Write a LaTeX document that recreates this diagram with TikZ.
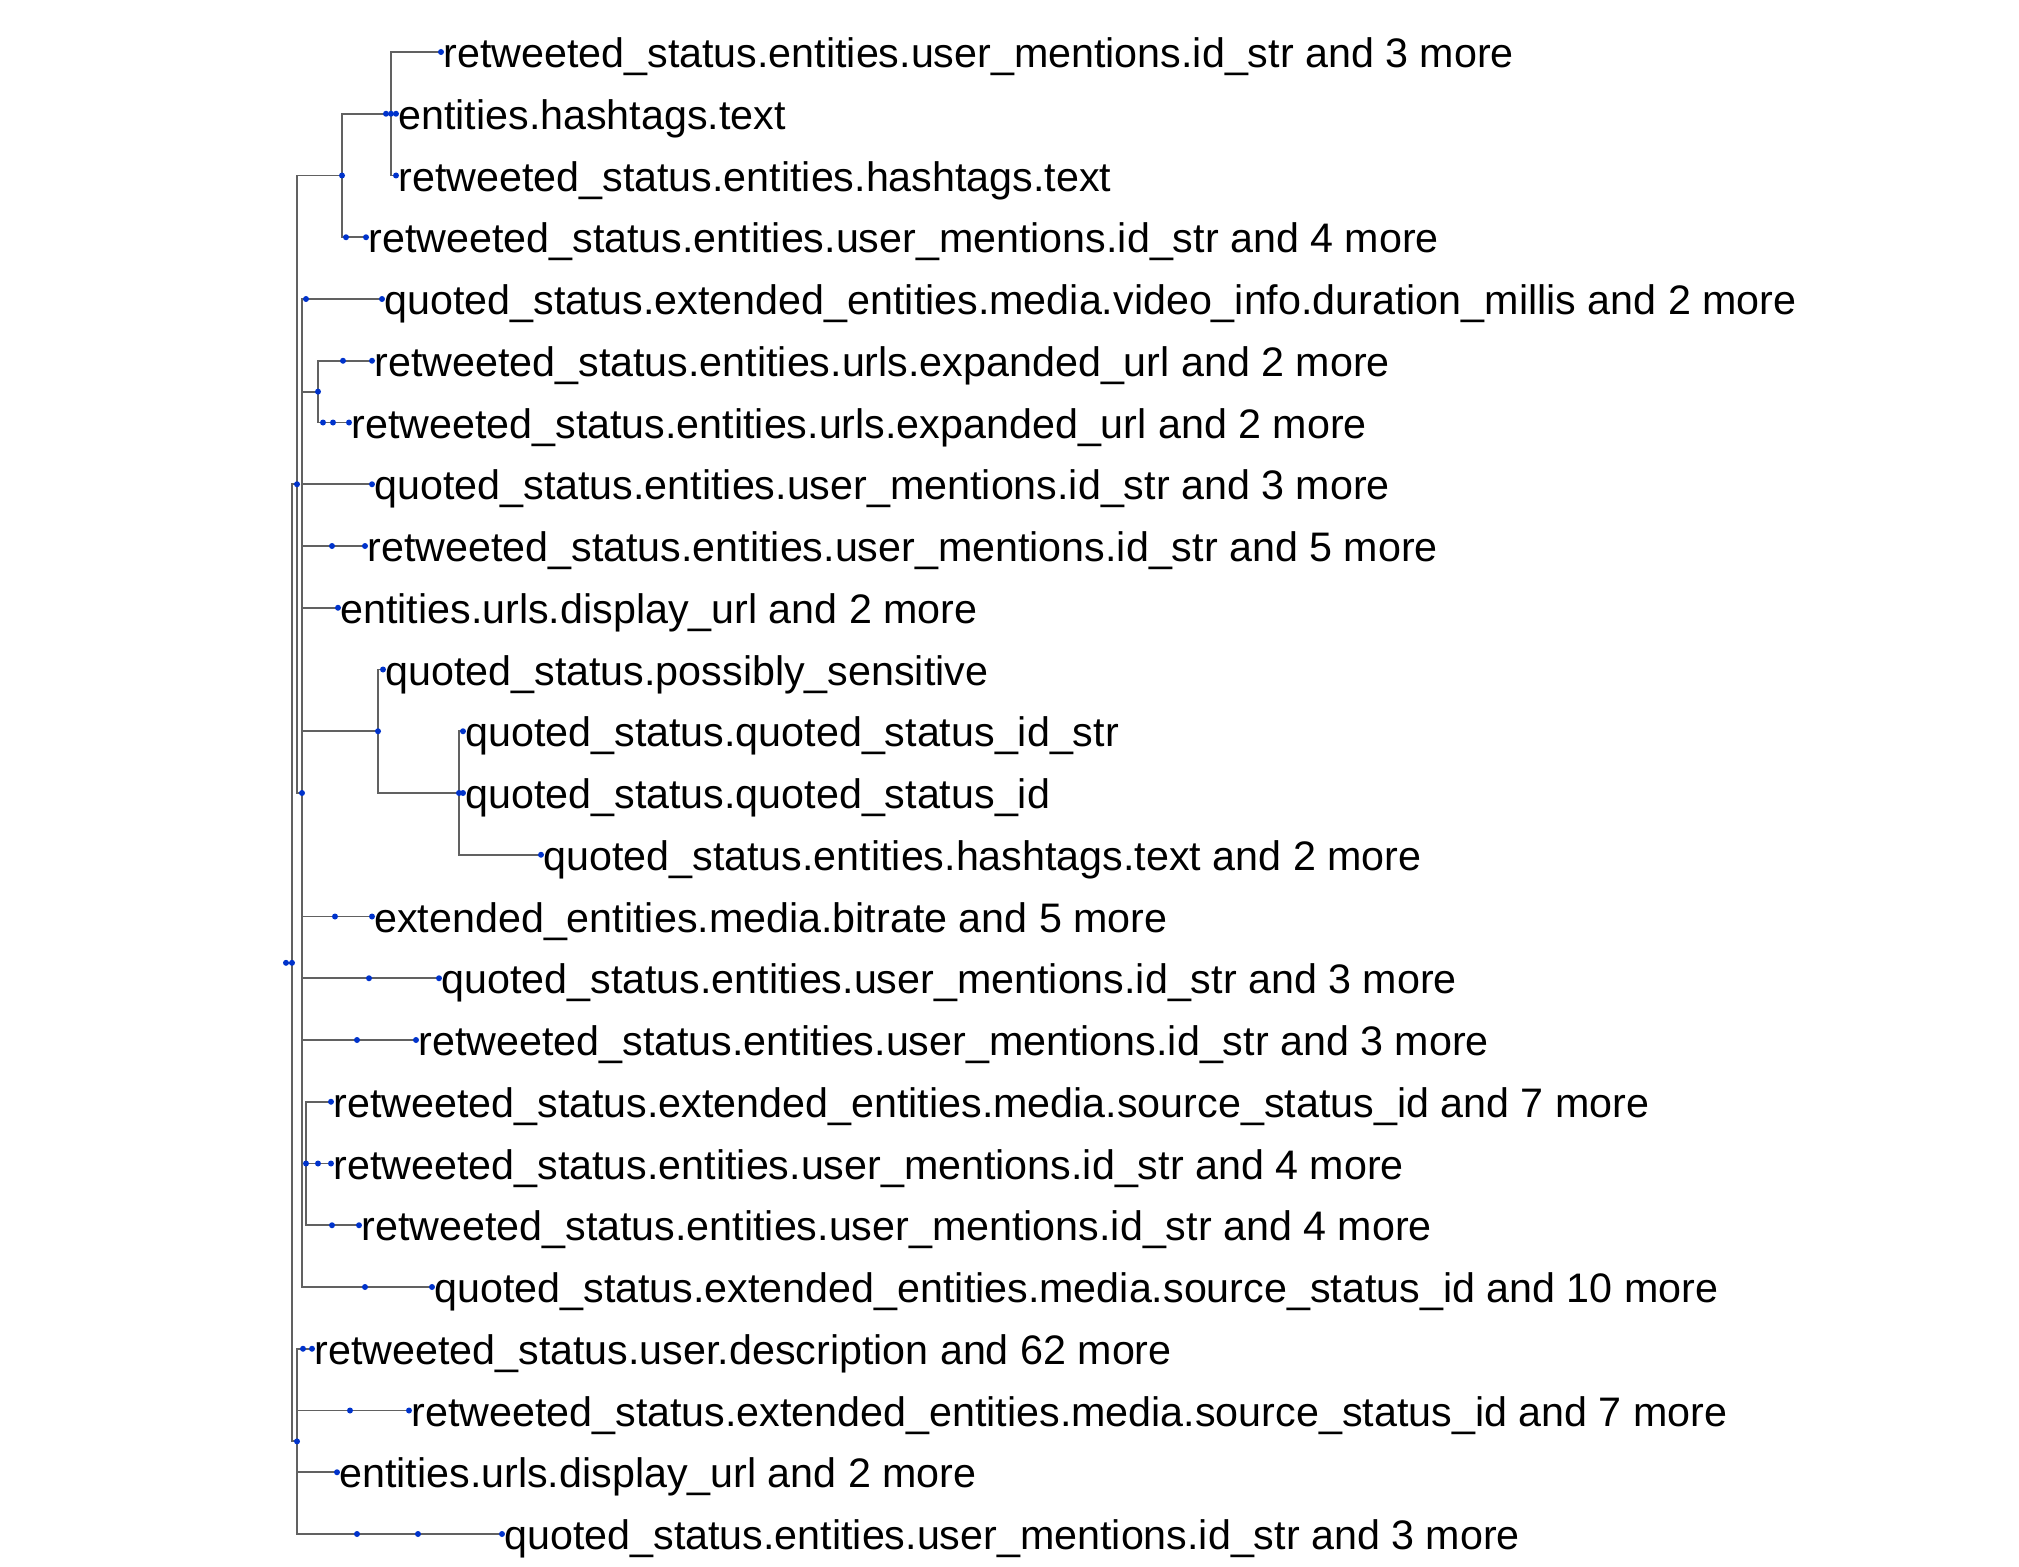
\documentclass[tikz,border=0pt]{standalone}
\usepackage{fontspec}
\setmainfont{Liberation Sans}
\definecolor{dotblue}{RGB}{0,51,204}
\begin{document}
\begin{tikzpicture}[x=0.5pt,y=-30.875pt,
    edge/.style={draw=black!62,line width=0.9pt},
    blob/.style={fill=dotblue},
    lbl/.style={anchor=base west,inner sep=0pt,xshift=1pt,yshift=-7.8pt,
      font=\fontsize{20.62}{24}\selectfont}]
  \useasboundingbox (0,-0.842) rectangle (2019,24.534);
  % inner nodes of the tree
  \coordinate (R0) at (286,14.75);
  \coordinate (R) at (292,14.75);
  \coordinate (B) at (297,7);
  \coordinate (C) at (297,22.5);
  \coordinate (D) at (342,2);
  \coordinate (E) at (302,12);
  \coordinate (F) at (391,1);
  \coordinate (G) at (318,5.5);
  \coordinate (H) at (378,11);
  \coordinate (I) at (459,12);
  \coordinate (J) at (306,18);
  % leaves, one per row
  \foreach \n/\x in {0/441,1/396,2/396,3/366,4/382,5/372,6/349,7/372,8/365,
      9/338,10/383,11/463,12/463,13/541,14/372,15/439,16/416,17/331,18/331,
      19/359,20/432,21/312,22/409,23/337,24/502}
    \coordinate (L\n) at (\x,\n);
  % branches
  \draw[edge] (R0) -- (R);
  \foreach \p/\c in {R/B,R/C,B/D,B/E,D/F,D/L3,F/L0,F/L1,F/L2,
      E/L4,E/G,G/L5,G/L6,E/L7,E/L8,E/L9,E/H,H/L10,H/I,I/L11,I/L12,I/L13,
      E/L14,E/L15,E/L16,E/J,J/L17,J/L18,J/L19,E/L20,
      C/L21,C/L22,C/L23,C/L24}
    \draw[edge] (\p) |- (\c);
  % dots on the branches
  \foreach \x/\y in {386/1,346/3,306/4,343/5,323/6,333/6,332/8,335/14,369/15,
      357/16,318/18,332/19,365/20,303/21,350/22,357/24,418/24}
    \fill[blob] (\x,\y) circle (1.5pt);
  \foreach \c in {R0,R,B,C,D,E,F,G,H,I,J}
    \fill[blob] (\c) circle (1.5pt);
  \foreach \n in {0,...,24}
    \fill[blob] (L\n) circle (1.5pt);
  % labels
  \node[lbl] (t0) at (L0) {retweeted\_status.entities.user\_mentions.id\_str and 3 more};
  \node[lbl] (t1) at (L1) {entities.hashtags.text};
  \node[lbl] (t2) at (L2) {retweeted\_status.entities.hashtags.text};
  \node[lbl] (t3) at (L3) {retweeted\_status.entities.user\_mentions.id\_str and 4 more};
  \node[lbl] (t4) at (L4) {quoted\_status.extended\_entities.media.video\_info.duration\_millis and 2 more};
  \node[lbl] (t5) at (L5) {retweeted\_status.entities.urls.expanded\_url and 2 more};
  \node[lbl] (t6) at (L6) {retweeted\_status.entities.urls.expanded\_url and 2 more};
  \node[lbl] (t7) at (L7) {quoted\_status.entities.user\_mentions.id\_str and 3 more};
  \node[lbl] (t8) at (L8) {retweeted\_status.entities.user\_mentions.id\_str and 5 more};
  \node[lbl] (t9) at (L9) {entities.urls.display\_url and 2 more};
  \node[lbl] (t10) at (L10) {quoted\_status.possibly\_sensitive};
  \node[lbl] (t11) at (L11) {quoted\_status.quoted\_status\_id\_str};
  \node[lbl] (t12) at (L12) {quoted\_status.quoted\_status\_id};
  \node[lbl] (t13) at (L13) {quoted\_status.entities.hashtags.text and 2 more};
  \node[lbl] (t14) at (L14) {extended\_entities.media.bitrate and 5 more};
  \node[lbl] (t15) at (L15) {quoted\_status.entities.user\_mentions.id\_str and 3 more};
  \node[lbl] (t16) at (L16) {retweeted\_status.entities.user\_mentions.id\_str and 3 more};
  \node[lbl] (t17) at (L17) {retweeted\_status.extended\_entities.media.source\_status\_id and 7 more};
  \node[lbl] (t18) at (L18) {retweeted\_status.entities.user\_mentions.id\_str and 4 more};
  \node[lbl] (t19) at (L19) {retweeted\_status.entities.user\_mentions.id\_str and 4 more};
  \node[lbl] (t20) at (L20) {quoted\_status.extended\_entities.media.source\_status\_id and 10 more};
  \node[lbl] (t21) at (L21) {retweeted\_status.user.description and 62 more};
  \node[lbl] (t22) at (L22) {retweeted\_status.extended\_entities.media.source\_status\_id and 7 more};
  \node[lbl] (t23) at (L23) {entities.urls.display\_url and 2 more};
  \node[lbl] (t24) at (L24) {quoted\_status.entities.user\_mentions.id\_str and 3 more};
\end{tikzpicture}
\end{document}
